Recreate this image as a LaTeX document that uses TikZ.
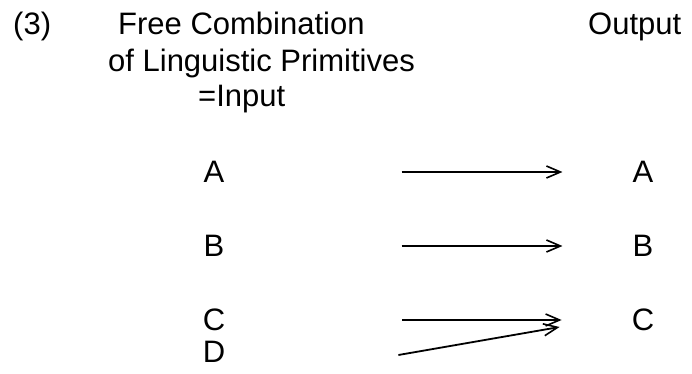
\documentclass[tikz,border=0pt]{standalone}
\usepackage{fontspec}
\setmainfont{Liberation Sans}
\usetikzlibrary{arrows.meta, positioning, calc}
\tikzset{
	label/.style={anchor=base west, inner sep=0pt, font=\fontsize{31}{36}\selectfont},
	letter/.style={inner sep=0pt, font=\fontsize{31}{36}\selectfont},
	arrow/.style={-{Straight Barb[length=14pt, width=12pt, line width=1.6pt]}, line width=1.8pt, draw=black},
}
\begin{document}
\begin{tikzpicture}[x=1pt, y=-1pt]
		\useasboundingbox (0,0) rectangle (692,374);
		\node[label] (num) at (13,35) {(3)};
		\node[label] (free) at (118,35) {Free Combination};
		\node[label] (ling) at (108,72) {of Linguistic Primitives};
		\node[label] (input) at (198,107) {=Input};
		\node[label] (output) at (588,35) {Output};
		\node[letter] (inA) at (214,172) {A};
		\node[letter] (inB) at (214,246) {B};
		\node[letter] (inC) at (214,320) {C};
		\node[letter] (inD) at (214,352) {D};
		\node[letter] (outA) at (643,172) {A};
		\node[letter] (outB) at (643,246) {B};
		\node[letter] (outC) at (643,320) {C};
		\foreach \x in {A,B,C}{\draw[arrow] ($(in\x.east)+(177,0)$) -- ($(out\x.west)+(-70,0)$);}
		\draw[arrow] ($(inD.east)+(173,3)$) -- ($(outC.west)+(-72,7)$);
	\end{tikzpicture}
\end{document}
